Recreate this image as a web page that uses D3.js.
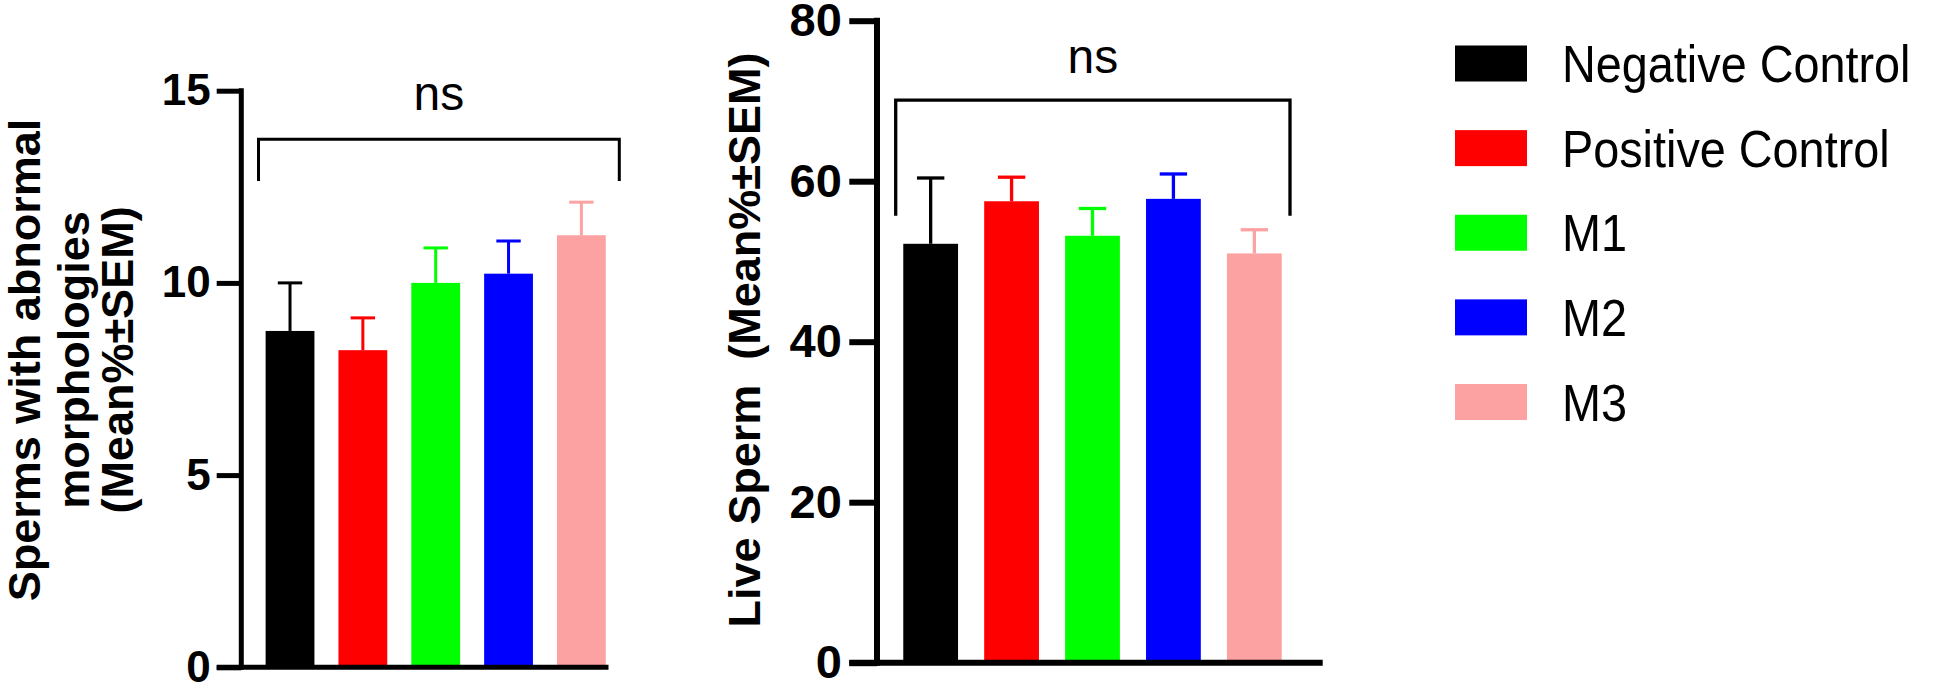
<!DOCTYPE html>
<html>
<head>
<meta charset="utf-8">
<script src="https://cdn.jsdelivr.net/npm/d3@7"></script>
<style>
  html, body { margin: 0; padding: 0; background: #fff; }
  svg { display: block; font-family: "Liberation Sans", Arial, Helvetica, sans-serif; }
</style>
</head>
<body>
<svg id="chart" width="1951" height="684"></svg>
<script>
// ---------------- data ----------------
const groups = ["Negative Control", "Positive Control", "M1", "M2", "M3"];
const colors = ["#000000", "#ff0000", "#00ff00", "#0000ff", "#fda2a2"];

const abnormalMean = [8.75, 8.25, 10.0, 10.24, 11.24];
const abnormalSEM  = [1.25, 0.84, 0.91, 0.85, 0.86];
const abnormalTicks = [0, 5, 10, 15];
const abnormalLabel = ["Sperms with abnormal", "morphologies", "(Mean%\u00B1SEM)"];
const abnormalSig = "ns";
const abnormalBracket = [13.74, 12.65]; // top, end of legs (data units)

const liveMean = [52.2, 57.5, 53.2, 57.8, 51.0];
const liveSEM  = [8.2, 3.0, 3.4, 3.1, 2.95];
const liveTicks = [0, 20, 40, 60, 80];
const liveLabel = ["Live Sperm  (Mean%\u00B1SEM)"];
const liveSig = "ns";
const liveBracket = [70.1, 55.7];

// ---------------- drawing ----------------
const svg = d3.select("#chart");

function panel(opt) {
  const g = svg.append("g");
  const x = d3.scaleBand().domain(groups).range(opt.xr)
    .paddingInner(opt.padIn).paddingOuter(opt.padIn / 2);
  const y = d3.scaleLinear().domain(opt.domain).range(opt.yr);
  const sw = opt.axisW;

  // bars
  g.selectAll("rect.bar").data(groups).join("rect")
    .attr("x", d => x(d)).attr("width", x.bandwidth())
    .attr("y", (d, i) => y(opt.mean[i]))
    .attr("height", (d, i) => y(0) - y(opt.mean[i]))
    .attr("fill", (d, i) => colors[i]);

  // error bars (upper only)
  const eb = g.selectAll("g.err").data(groups).join("g");
  eb.append("line")
    .attr("x1", d => x(d) + x.bandwidth() / 2).attr("x2", d => x(d) + x.bandwidth() / 2)
    .attr("y1", (d, i) => y(opt.mean[i])).attr("y2", (d, i) => y(opt.mean[i] + opt.sem[i]))
    .attr("stroke", (d, i) => colors[i]).attr("stroke-width", opt.errW);
  eb.append("line")
    .attr("x1", d => x(d) + x.bandwidth() / 4).attr("x2", d => x(d) + x.bandwidth() * 3 / 4)
    .attr("y1", (d, i) => y(opt.mean[i] + opt.sem[i])).attr("y2", (d, i) => y(opt.mean[i] + opt.sem[i]))
    .attr("stroke", (d, i) => colors[i]).attr("stroke-width", opt.errW);

  // y axis
  const ax = g.append("g").attr("transform", `translate(${opt.axisX},0)`)
    .call(d3.axisLeft(y).tickValues(opt.ticks).tickSize(opt.tickLen).tickPadding(opt.tickPad).tickSizeOuter(0));
  ax.select(".domain").attr("stroke", "#000").attr("stroke-width", sw)
    .attr("d", `M0,${y(0) + sw / 2}V${y(opt.domain[1]) - sw / 2}`);
  ax.selectAll(".tick line").attr("stroke", "#000").attr("stroke-width", sw);
  ax.selectAll(".tick text").attr("fill", "#000")
    .style("font-size", opt.tickFont + "px").style("font-weight", "bold")
    .style("font-family", "'Liberation Sans', Arial, sans-serif");

  // x axis line
  g.append("line").attr("x1", opt.axisX - opt.tickLen).attr("x2", opt.xEnd)
    .attr("y1", y(0)).attr("y2", y(0)).attr("stroke", "#000").attr("stroke-width", sw);

  // significance bracket
  const [bx1, bx2] = opt.bracketX;
  g.append("path")
    .attr("d", `M${bx1},${y(opt.bracket[1])}V${y(opt.bracket[0])}H${bx2}V${y(opt.bracket[1])}`)
    .attr("fill", "none").attr("stroke", "#000").attr("stroke-width", opt.bracketW);
  g.append("text").attr("x", (bx1 + bx2) / 2).attr("y", opt.sigY)
    .attr("text-anchor", "middle").style("font-size", opt.sigFont + "px")
    .text(opt.sig);

  // y title
  const t = g.append("text")
    .attr("transform", `translate(${opt.titleX},${opt.titleY}) rotate(-90)`)
    .attr("text-anchor", "middle").style("font-weight", "bold")
    .style("white-space", "pre")
    .style("font-size", opt.titleFont + "px");
  opt.title.forEach((s, i) => {
    t.append("tspan").attr("x", 0).attr("y", opt.titleLH[i]).text(s);
  });
}

panel({
  mean: abnormalMean, sem: abnormalSEM, ticks: abnormalTicks, domain: [0, 15],
  xr: [253.6, 617.8], padIn: 0.33, yr: [667.3, 90.7],
  axisX: 241.3, axisW: 5, tickLen: 24.6, tickPad: 6, tickFont: 44, xEnd: 608.5,
  errW: 3, bracket: abnormalBracket, bracketX: [258.5, 619.3], bracketW: 3,
  sig: abnormalSig, sigY: 110, sigFont: 48,
  title: abnormalLabel, titleX: 40, titleY: 360, titleLH: [0, 49, 93], titleFont: 45
});

panel({
  mean: liveMean, sem: liveSEM, ticks: liveTicks, domain: [0, 80],
  xr: [890.2, 1294.8], padIn: 0.323, yr: [662.7, 20.7],
  axisX: 877, axisW: 6, tickLen: 27.7, tickPad: 7.5, tickFont: 47, xEnd: 1322.7,
  errW: 3.3, bracket: liveBracket, bracketX: [895.7, 1290], bracketW: 3.3,
  sig: liveSig, sigY: 73, sigFont: 48,
  title: liveLabel, titleX: 760, titleY: 340, titleLH: [0], titleFont: 45
});

// legend
const leg = svg.append("g");
const legY = d3.scalePoint().domain(groups).range([63.5, 402]);
leg.selectAll("rect").data(groups).join("rect")
  .attr("x", 1455).attr("width", 72)
  .attr("y", d => legY(d) - 18).attr("height", 36)
  .attr("fill", (d, i) => colors[i]);
leg.selectAll("text").data(groups).join("text")
  .attr("transform", d => `translate(1562,${legY(d) + 18.5}) scale(0.9,1)`)
  .style("font-size", "52px").text(d => d);
</script>
</body>
</html>
